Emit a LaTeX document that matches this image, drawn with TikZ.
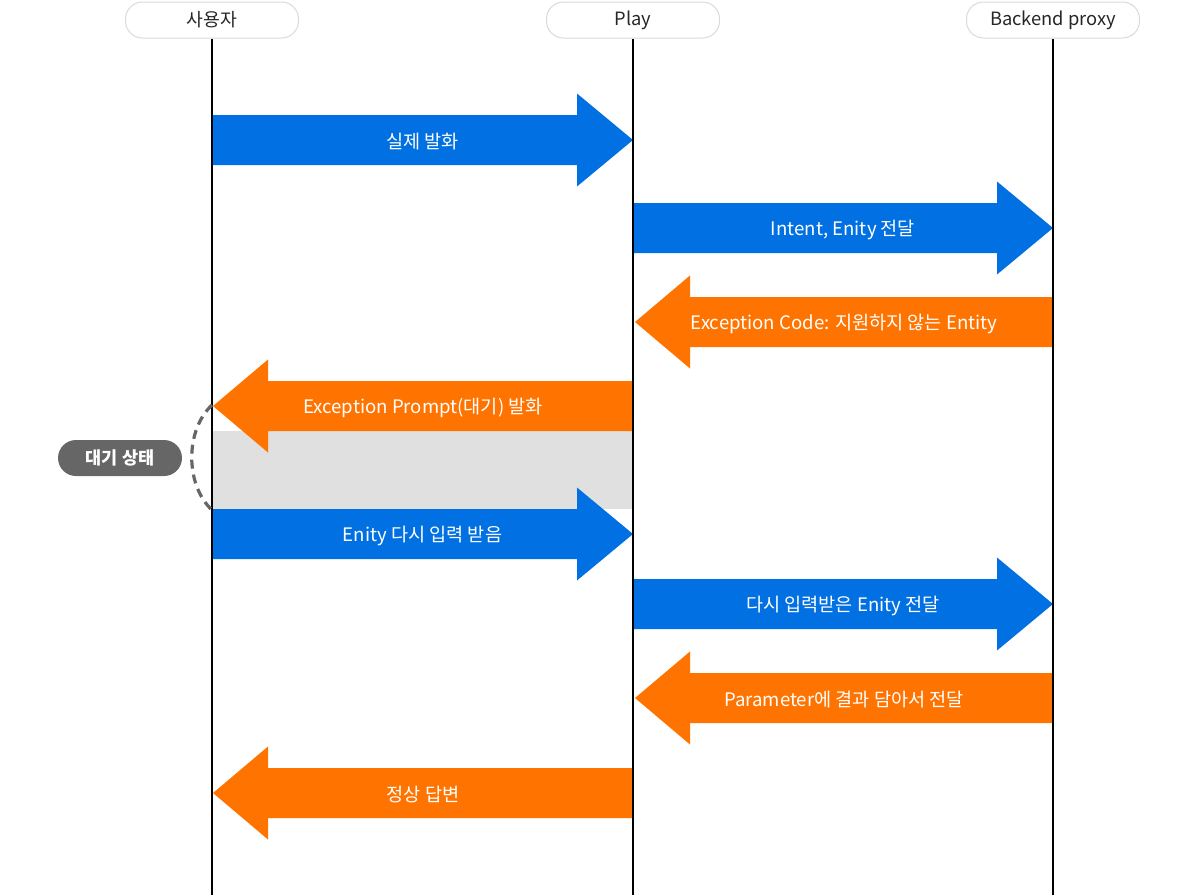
\documentclass[tikz,border=0pt]{standalone}
\usepackage{fontspec}
\setmainfont{Noto Sans CJK KR}
\usetikzlibrary{positioning, calc}

\definecolor{msgblue}{RGB}{0,112,226}
\definecolor{msgorange}{RGB}{255,116,0}
\definecolor{waitgray}{RGB}{224,224,224}
\definecolor{pillgray}{RGB}{102,102,102}
\definecolor{boxline}{RGB}{218,218,218}

\tikzset{
  actor/.style={draw=boxline, line width=1pt, rounded corners=17pt, minimum width=173pt,
    minimum height=36pt, text=black!85, font=\fontsize{18.3}{20}\selectfont},
  lifeline/.style={line width=1.6pt, black},
  msglabel/.style={text=white, yshift=-1.5pt, font=\fontsize{18.6}{20}\selectfont},
  waitpill/.style={fill=pillgray, rounded corners=18pt, minimum width=124pt, minimum height=36pt,
    text=white, font=\bfseries\fontsize{17.5}{20}\selectfont}
}

% right arrow: #1 from x, #2 tip x, #3 y, #4 colour, #5 text
\newcommand{\rmsg}[5]{%
  \fill[#4] (#1,#3-25) -- (#2-56,#3-25) -- (#2-56,#3-46.5) -- (#2,#3)
    -- (#2-56,#3+46.5) -- (#2-56,#3+25) -- (#1,#3+25) -- cycle;
  \node[msglabel] at ({(#1+#2)/2},#3) {#5};}
% left arrow: #1 tip x, #2 to x
\newcommand{\lmsg}[5]{%
  \fill[#4] (#2,#3-25) -- (#1+55,#3-25) -- (#1+55,#3-46.5) -- (#1,#3)
    -- (#1+55,#3+46.5) -- (#1+55,#3+25) -- (#2,#3+25) -- cycle;
  \node[msglabel] at ({(#1+#2)/2},#3) {#5};}

\begin{document}
\begin{tikzpicture}[x=1pt, y=-1pt]
  \useasboundingbox (0,0) rectangle (1200,895);

  \node[actor] (user) at (212,20) {\raisebox{-2pt}{사용자}};
  \node[actor] (play) at (633,20) {\raisebox{-2pt}{Play}};
  \node[actor] (proxy) at (1053,20) {\raisebox{-2pt}{Backend proxy}};
  \coordinate (userend) at (212,895);
  \coordinate (playend) at (633,895);
  \coordinate (proxyend) at (1053,895);

  % waiting region
  \fill[waitgray] (212,431) rectangle (633,509);

  \rmsg{212}{633}{140}{msgblue}{실제 발화}
  \rmsg{633}{1053}{228}{msgblue}{Intent, Enity 전달}
  \lmsg{635}{1053}{322}{msgorange}{Exception Code: 지원하지 않는 Entity}
  \lmsg{213}{633}{406}{msgorange}{Exception Prompt(대기) 발화}
  \rmsg{212}{633}{534}{msgblue}{Enity 다시 입력 받음}
  \rmsg{633}{1053}{604}{msgblue}{다시 입력받은 Enity 전달}
  \lmsg{635}{1053}{698}{msgorange}{Parameter에 결과 담아서 전달}
  \lmsg{213}{633}{793}{msgorange}{정상 답변}

  \draw[lifeline] (user.south) -- (userend);
  \draw[lifeline] (play.south) -- (playend);
  \draw[lifeline] (proxy.south) -- (proxyend);

  % waiting state
  \node[waitpill] (wait) at (120,458) {대기 상태};
  \draw[pillgray, line width=3.2pt, dash pattern=on 9pt off 6pt]
    (212,405) .. controls (185,430) and (185,485) .. (212,510);
\end{tikzpicture}
\end{document}
